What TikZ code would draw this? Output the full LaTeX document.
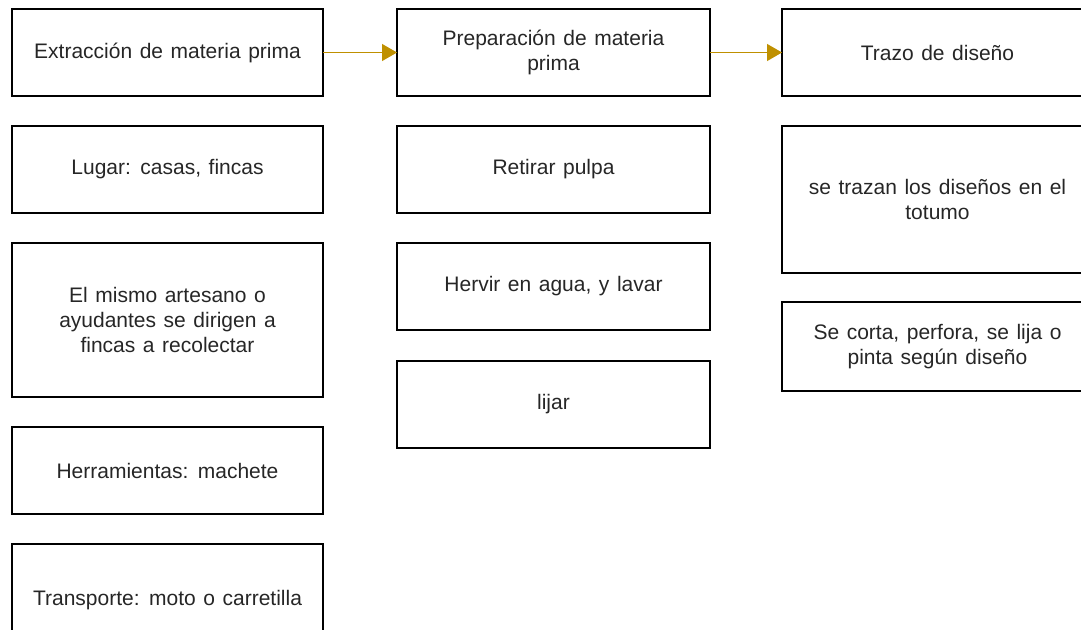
\documentclass[tikz,border=0pt]{standalone}
\usepackage{fontspec}
\setmainfont{Liberation Sans}
\usetikzlibrary{positioning,arrows.meta}
\definecolor{oro}{HTML}{BF9000}
\newcommand{\letrapaso}{\fontsize{21}{25}\selectfont\spaceskip=0.36em plus 0.1em\relax}
\begin{document}
\begin{tikzpicture}[x=1pt,y=-1pt,
  paso/.style={draw,line width=1.6pt,rectangle,minimum width=311pt,minimum height=87pt,
    inner sep=0pt,outer sep=0pt,align=center,text=black!85,font=\letrapaso},
  flecha/.style={draw=oro,line width=1.3pt,-{Triangle[length=15pt,width=17pt,fill=oro]}},
  node distance=30pt and 74pt]
\useasboundingbox (0,0) rectangle (1081,629);
\clip (0,0) rectangle (1081,629);
% primera columna
\node [paso,anchor=north west] (extraccion) at (12,9) {Extracción de materia prima};
\node [paso,below=of extraccion] (lugar) {Lugar: casas, fincas};
\node [paso,below=of lugar,minimum height=154pt] (artesano) {El mismo artesano o\\ayudantes se dirigen a\\fincas a recolectar};
\node [paso,below=of artesano] (herramientas) {Herramientas: machete};
\node [paso,below=of herramientas,minimum height=113pt] (transporte) {Transporte: moto o carretilla};
% segunda columna
\node [paso,right=of extraccion,minimum width=313pt] (preparacion) {Preparación de materia\\prima};
\node [paso,below=of preparacion,minimum width=313pt] (pulpa) {Retirar pulpa};
\node [paso,below=of pulpa,minimum width=313pt] (hervir) {Hervir en agua, y lavar};
\node [paso,below=31pt of hervir,minimum width=313pt] (lijar) {lijar};
% tercera columna
\node [paso,right=72pt of preparacion] (trazo) {Trazo de diseño};
\node [paso,below=of trazo,minimum height=147pt] (trazan) {se trazan los diseños en el\\totumo};
\node [paso,below=29pt of trazan,minimum height=89pt] (corta) {Se corta, perfora, se lija o\\pinta según diseño};
% flechas
\draw [flecha] (extraccion) -- (preparacion);
\draw [flecha] (preparacion) -- (trazo);
\end{tikzpicture}
\end{document}
